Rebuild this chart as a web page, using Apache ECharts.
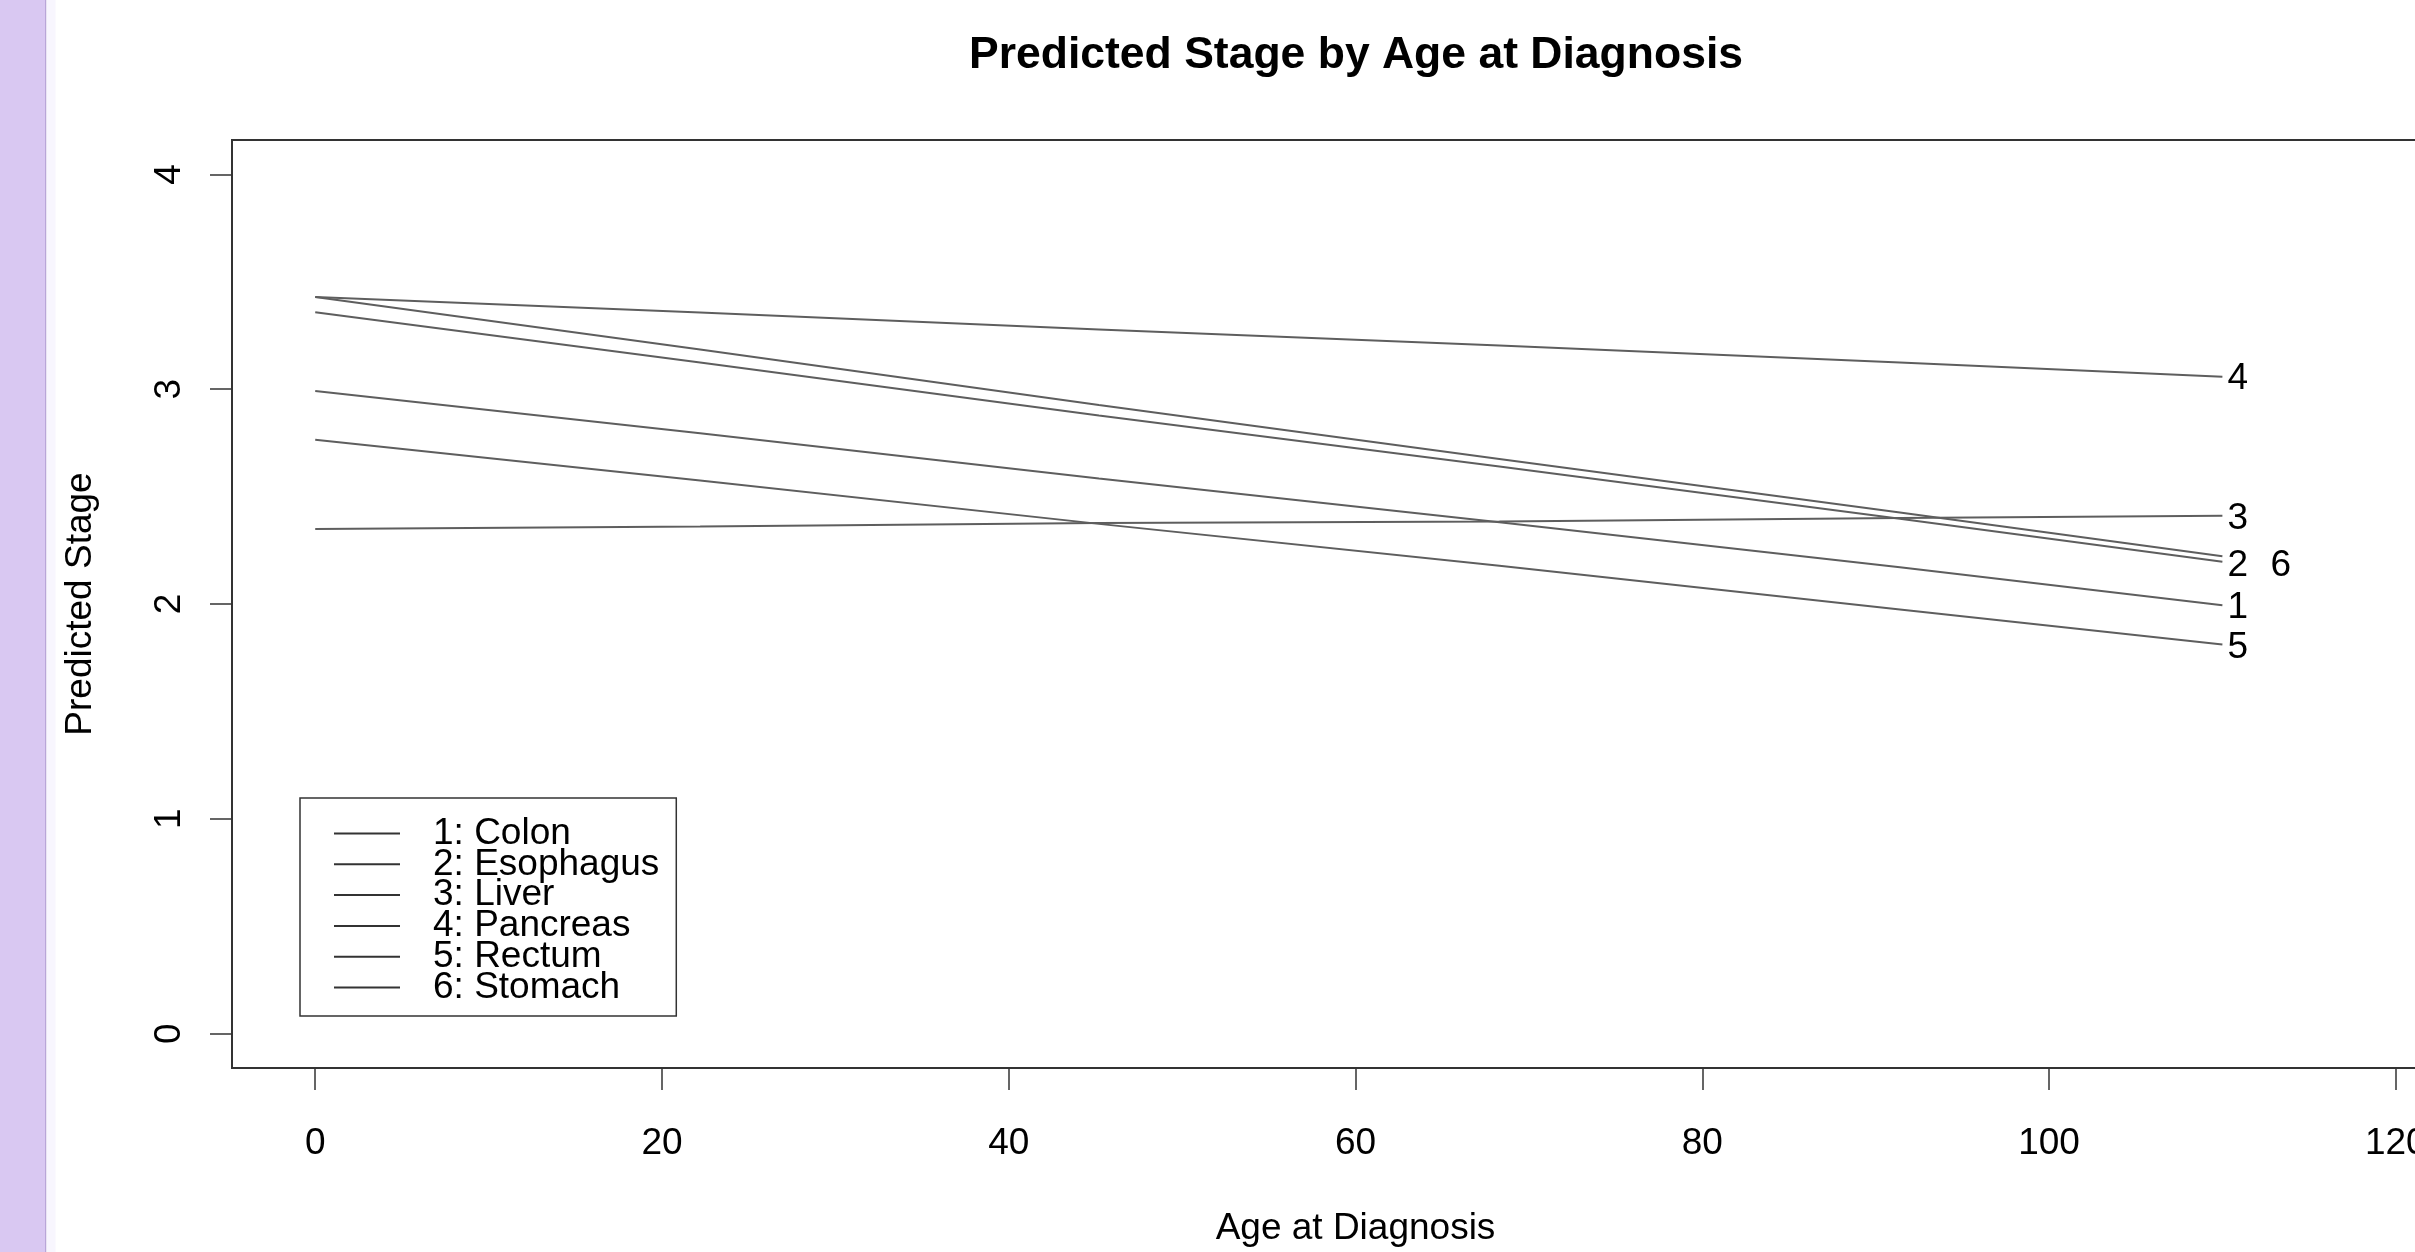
<!DOCTYPE html>
<html><head><meta charset="utf-8">
<script src="https://cdn.jsdelivr.net/npm/echarts@6/dist/echarts.min.js"></script>
<style>html,body{margin:0;padding:0;background:#fff;overflow:hidden;width:2415px;height:1252px}#c{width:2520px;height:1252px}</style>
</head><body><div id="c"></div>
<script>
const ages      = [0, 22.2, 45.2, 68.3, 91.4, 110];
const colon     = [2.991, 2.795, 2.584, 2.381, 2.171, 1.994];
const esophagus = [3.429, 3.185, 2.926, 2.675, 2.426, 2.222];
const liver     = [2.349, 2.361, 2.377, 2.384, 2.400, 2.411];
const pancreas  = [3.429, 3.357, 3.278, 3.203, 3.124, 3.058];
const rectum    = [2.765, 2.575, 2.373, 2.178, 1.974, 1.811];
const stomach   = [3.358, 3.124, 2.877, 2.640, 2.397, 2.197];

const seriesNames = ['1: Colon', '2: Esophagus', '3: Liver', '4: Pancreas', '5: Rectum', '6: Stomach'];
const endTags     = ['1', '2', '3', '4', '5', '6'];
const xTicks = [0, 20, 40, 60, 80, 100, 120];
const yTicks = [0, 1, 2, 3, 4];

const allValues = [colon, esophagus, liver, pancreas, rectum, stomach];
const labelOffsets = [[0, 3], [0, 9], [0, 3], [0, 2], [0, 3], [43, 4]];

const FONT = "'Liberation Sans', Arial, sans-serif";
const chart = echarts.init(document.getElementById('c'), null, {renderer: 'canvas'});

const series = allValues.map((vals, k) => ({
  name: seriesNames[k],
  type: 'line',
  data: ages.map((a, i) => [a, vals[i]]),
  symbol: 'none',
  showSymbol: false,
  lineStyle: {color: '#5e5e5e', width: 2},
  itemStyle: {color: '#333'},
  emphasis: {disabled: true},
  endLabel: {
    show: true,
    formatter: () => endTags[k],
    distance: 5,
    offset: labelOffsets[k],
    color: '#000',
    fontSize: 37,
    fontFamily: FONT
  }
}));

chart.setOption({
  animation: false,
  backgroundColor: '#fff',
  title: {
    text: 'Predicted Stage by Age at Diagnosis',
    left: 1351, top: 28, textAlign: 'center',
    textStyle: {fontSize: 44.5, fontWeight: 'bold', color: '#000', fontFamily: FONT}
  },
  graphic: [
    {type: 'rect', shape: {x: 0, y: 0, width: 45, height: 1252}, style: {fill: '#D9C8F2'}, z: -10},
    {type: 'rect', shape: {x: 45, y: 0, width: 1.5, height: 1252}, style: {fill: '#B9A6D8'}, z: -10},
    {type: 'rect', shape: {x: 46.5, y: 0, width: 9, height: 1252}, style: {fill: '#F8F6FE'}, z: -10}
  ],
  grid: {
    left: 232, top: 140, width: 2247, height: 929,
    show: true, borderColor: '#333', borderWidth: 2, backgroundColor: 'transparent'
  },
  legend: {
    orient: 'vertical',
    left: 300, top: 798,
    padding: [17, 17, 10, 34],
    itemGap: -6.2,
    itemWidth: 66, itemHeight: 2,
    icon: 'rect',
    itemStyle: {color: '#333'},
    borderColor: '#333', borderWidth: 1.5,
    backgroundColor: '#fff',
    textStyle: {fontSize: 37, color: '#000', fontFamily: FONT, padding: [0, 0, 0, 28]},
    data: seriesNames,
    selectedMode: false
  },
  xAxis: {
    type: 'value',
    min: -4.8, max: 124.8,
    name: 'Age at Diagnosis',
    nameLocation: 'middle',
    nameGap: 142,
    nameTextStyle: {fontSize: 37, color: '#000', fontFamily: FONT},
    axisLine: {show: false, onZero: false},
    splitLine: {show: false},
    axisTick: {show: true, length: 22, customValues: xTicks, lineStyle: {color: '#333', width: 1.5}},
    axisLabel: {customValues: xTicks, margin: 57, fontSize: 37, color: '#000', fontFamily: FONT}
  },
  yAxis: {
    type: 'value',
    min: -0.16, max: 4.16,
    name: 'Predicted Stage',
    nameLocation: 'middle',
    nameGap: 133,
    nameTextStyle: {fontSize: 37, color: '#000', fontFamily: FONT},
    axisLine: {show: false, onZero: false},
    splitLine: {show: false},
    axisTick: {show: true, length: 22, customValues: yTicks, lineStyle: {color: '#333', width: 1.5}},
    axisLabel: {customValues: yTicks, rotate: 90, margin: 44, fontSize: 37, color: '#000', fontFamily: FONT}
  },
  series: series
});
</script>
</body></html>
